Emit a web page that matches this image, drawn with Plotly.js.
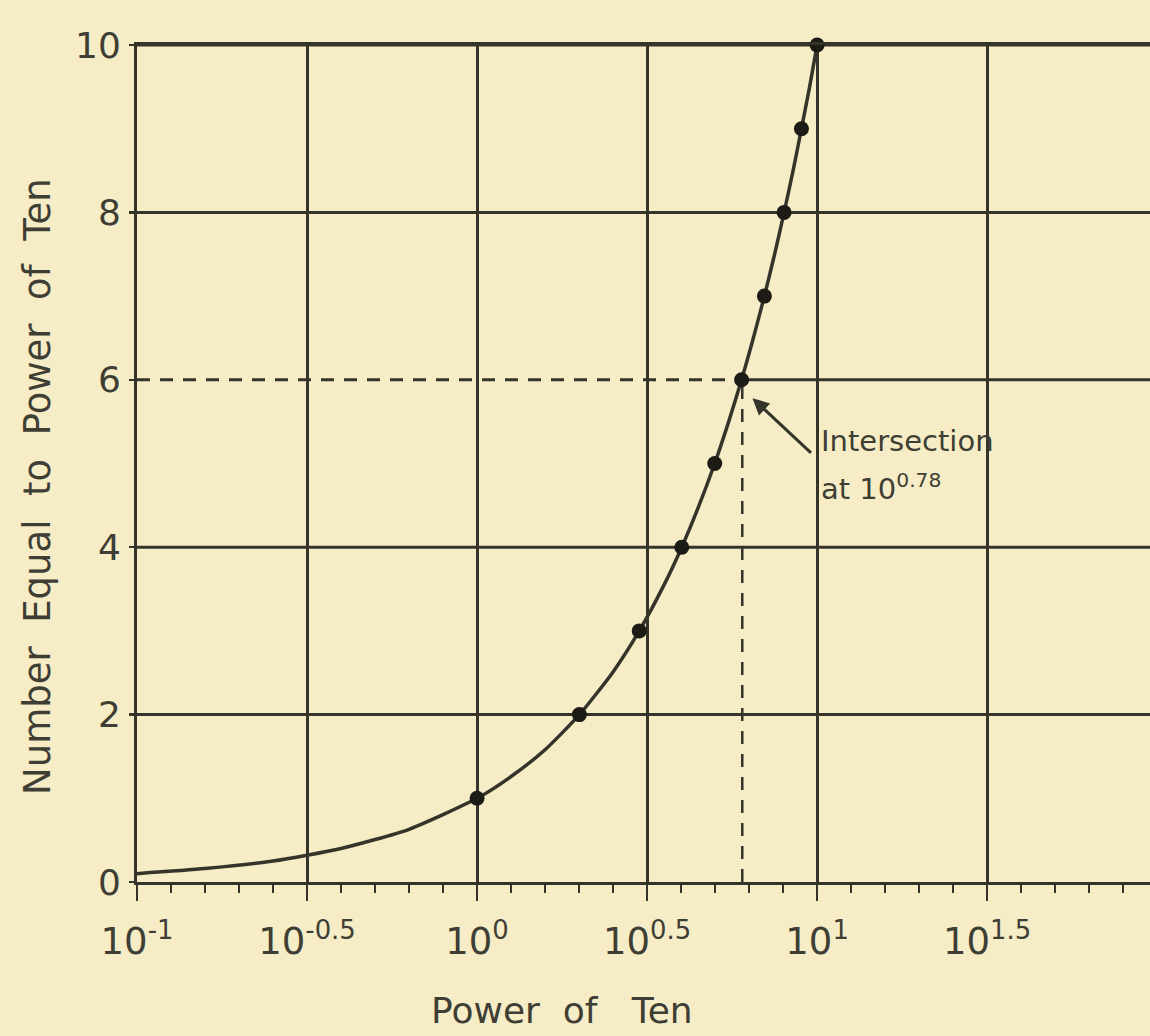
<!DOCTYPE html>
<html>
<head>
<meta charset="utf-8">
<script src="https://cdn.plot.ly/plotly-3.0.1.min.js"></script>
<style>
  html, body { margin: 0; padding: 0; background: #f6edc6; }
  #chart { width: 1150px; height: 1036px; }
</style>
</head>
<body>
<div id="chart"></div>
<script>
// ---- data ----
// exponent (power of ten) and the number it equals, for the plotted dots
const pointPower  = [0.0, 0.301, 0.477, 0.602, 0.699, 0.778, 0.845, 0.903, 0.954, 1.0];
const pointNumber = [1, 2, 3, 4, 5, 6, 7, 8, 9, 10];

// smooth curve samples
const curvePower  = [-1.0, -0.8, -0.6, -0.4, -0.2, 0.0, 0.1, 0.2, 0.301, 0.4, 0.477, 0.55, 0.602, 0.65, 0.699, 0.74, 0.778, 0.81, 0.845, 0.875, 0.903, 0.93, 0.954, 0.978, 1.0];
const curveNumber = [0.10, 0.16, 0.25, 0.40, 0.63, 1.00, 1.26, 1.58, 2.00, 2.51, 3.00, 3.55, 4.00, 4.47, 5.00, 5.50, 6.00, 6.46, 7.00, 7.50, 8.00, 8.51, 9.00, 9.50, 10.00];

// intersection
const intersectPower  = 0.78;
const intersectNumber = 6;

// axis ticks
const xTickVals  = [-1, -0.5, 0, 0.5, 1, 1.5];
const xTickText  = ['10<sup>-1</sup>', '10<sup>-0.5</sup>', '10<sup>0</sup>', '10<sup>0.5</sup>', '10<sup>1</sup>', '10<sup>1.5</sup>'];
const yTickVals  = [0, 2, 4, 6, 8, 10];
const yTickText  = ['0', '2', '4', '6', '8', '10'];
const yGridVals  = [2, 4, 8, 10];

const xMin = -1, xMax = 1.979;
const ink = '#35342b';
const textInk = '#3f3e34';
const font = 'DejaVu Sans, Liberation Sans, sans-serif';
const nb = '\u00a0';

const traces = [
  { // dashed horizontal guide
    x: [xMin, intersectPower], y: [intersectNumber, intersectNumber],
    mode: 'lines', line: {color: ink, width: 3, dash: '13px,10px'},
    hoverinfo: 'skip', cliponaxis: false
  },
  { // dashed vertical guide
    x: [intersectPower, intersectPower], y: [0, intersectNumber],
    mode: 'lines', line: {color: ink, width: 2.5, dash: '13px,10px'},
    hoverinfo: 'skip'
  },
  { // curve
    x: curvePower, y: curveNumber,
    mode: 'lines', line: {color: ink, width: 3.5, shape: 'spline', smoothing: 0.6},
    hoverinfo: 'skip', cliponaxis: false
  },
  { // points
    x: pointPower, y: pointNumber,
    mode: 'markers', marker: {color: '#1c1b15', size: 15},
    cliponaxis: false
  }
];

const shapes = yGridVals.map(v => ({
  type: 'line', xref: 'paper', yref: 'y', x0: 0, x1: 1, y0: v, y1: v,
  line: {color: ink, width: 3}, layer: 'below'
}));
shapes.push({
  type: 'line', xref: 'x', yref: 'y', x0: intersectPower, x1: xMax, y0: intersectNumber, y1: intersectNumber,
  line: {color: ink, width: 3}, layer: 'below'
});

const layout = {
  width: 1150, height: 1036,
  margin: {l: 137, r: 0, t: 45, b: 154},
  paper_bgcolor: '#f6edc6',
  plot_bgcolor: '#f6edc6',
  showlegend: false,
  font: {family: font, color: textInk},
  xaxis: {
    range: [xMin, xMax],
    tickmode: 'array', tickvals: xTickVals, ticktext: xTickText,
    showgrid: true, gridcolor: ink, gridwidth: 3,
    zeroline: false,
    showline: true, linecolor: ink, linewidth: 3, mirror: true,
    ticks: 'outside', ticklen: 16, tickwidth: 2.5, tickcolor: ink,
    minor: {dtick: 0.1, tick0: -1, ticks: 'outside', ticklen: 8, tickwidth: 2.5, tickcolor: ink, showgrid: false},
    tickfont: {family: font, size: 37, color: textInk},
    ticklabelstandoff: 9,
    fixedrange: true
  },
  yaxis: {
    range: [0, 10],
    tickmode: 'array', tickvals: yTickVals, ticktext: yTickText,
    showgrid: false, zeroline: false,
    showline: true, linecolor: ink, linewidth: 3,
    ticks: 'outside', ticklen: 5, tickwidth: 2.5, tickcolor: ink,
    tickfont: {family: font, size: 36, color: textInk},
    ticklabelstandoff: 1,
    fixedrange: true
  },
  shapes: shapes,
  annotations: [
    { // arrow pointing at the intersection
      xref: 'x', yref: 'y', x: 0.81, y: 5.78, ax: 60, ay: 56,
      text: '', showarrow: true, arrowhead: 2, arrowsize: 1.1, arrowwidth: 3, arrowcolor: ink
    },
    {
      xref: 'x', yref: 'y', x: 1.005, y: 5.27, xanchor: 'left', yanchor: 'middle', align: 'left',
      text: 'Intersection', showarrow: false,
      font: {family: font, size: 29, color: textInk}
    },
    {
      xref: 'x', yref: 'y', x: 1.005, y: 4.72, xanchor: 'left', yanchor: 'middle', align: 'left',
      text: 'at 10<sup>0.78</sup>', showarrow: false,
      font: {family: font, size: 29, color: textInk}
    },
    { // x title
      xref: 'paper', yref: 'paper', x: 0.4195, y: -0.153, xanchor: 'center', yanchor: 'middle',
      text: 'Power' + nb + nb + 'of' + nb + nb + nb + 'Ten', showarrow: false,
      font: {family: font, size: 36, color: textInk}
    },
    { // y title
      xref: 'paper', yref: 'paper', x: -0.0977, y: 0.472, xanchor: 'center', yanchor: 'middle',
      textangle: -90,
      text: ['Number', 'Equal', 'to', 'Power', 'of', 'Ten'].join(nb + nb), showarrow: false,
      font: {family: font, size: 37, color: textInk}
    }
  ]
};

Plotly.newPlot('chart', traces, layout, {staticPlot: true, displayModeBar: false});
</script>
</body>
</html>
